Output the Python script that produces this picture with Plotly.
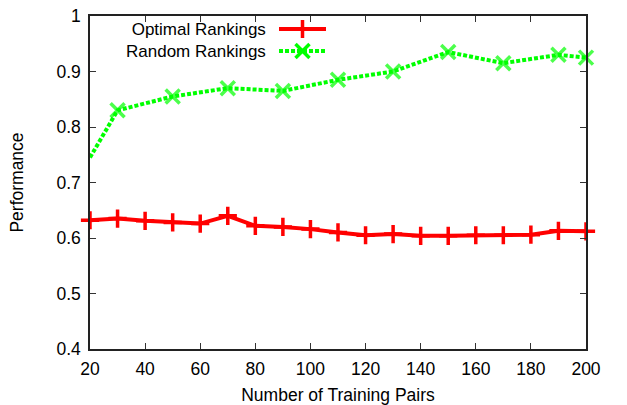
import plotly.graph_objects as go

# Data
opt_x = [20, 30, 40, 50, 60, 70, 80, 90, 100, 110, 120, 130, 140, 150, 160, 170, 180, 190, 200]
opt_y = [0.632, 0.635, 0.631, 0.628, 0.626, 0.640, 0.622, 0.620, 0.616, 0.610, 0.605, 0.607,
         0.604, 0.604, 0.605, 0.605, 0.606, 0.613, 0.612]
rnd_x = [20, 30, 50, 70, 90, 110, 130, 150, 170, 190, 200]
rnd_y = [0.745, 0.830, 0.855, 0.870, 0.865, 0.885, 0.900, 0.935, 0.915, 0.930, 0.925]
rnd_marker_sizes = [0] + [14] * (len(rnd_x) - 1)

x_ticks = [20, 40, 60, 80, 100, 120, 140, 160, 180, 200]
y_ticks = [0.4, 0.5, 0.6, 0.7, 0.8, 0.9, 1.0]
y_tick_text = ["0.4", "0.5", "0.6", "0.7", "0.8", "0.9", "1"]
legend_labels = ["Optimal Rankings", "Random Rankings"]

RED = "#ff0000"
GREEN = "#00ff00"
FONT = "Liberation Sans, Arial, sans-serif"
FS = 17.5
LFS = 17

W, H = 627, 405
L, R, T, B = 90, 41, 16, 56

fig = go.Figure()

fig.add_trace(go.Scatter(
    x=opt_x, y=opt_y, mode="lines+markers", name=legend_labels[0],
    line=dict(color=RED, width=4),
    marker=dict(symbol="cross-thin", size=13, line=dict(color=RED, width=3.5)),
    showlegend=False, cliponaxis=False,
))
fig.add_trace(go.Scatter(
    x=rnd_x, y=rnd_y, mode="lines+markers", name=legend_labels[1],
    line=dict(color=GREEN, width=4, dash="4px,2px"),
    marker=dict(symbol="x-thin", size=rnd_marker_sizes, line=dict(color=GREEN, width=3.5)),
    showlegend=False, cliponaxis=False,
))

# Legend drawn in pixel-like overlay axes (gnuplot style: text then sample)
leg_ys = [29.0, 51.0]
leg_styles = [(RED, "solid", "cross-thin", 13), (GREEN, "4px,2px", "x-thin", 14)]
for ly, (col, dash, sym, msz) in zip(leg_ys, leg_styles):
    fig.add_trace(go.Scatter(
        x=[279, 326], y=[ly, ly], mode="lines", xaxis="x2", yaxis="y2",
        line=dict(color=col, width=4, dash=dash), showlegend=False, hoverinfo="skip",
    ))
    fig.add_trace(go.Scatter(
        x=[302.5], y=[ly], mode="markers", xaxis="x2", yaxis="y2",
        marker=dict(symbol=sym, size=msz, line=dict(color=col, width=3.5)),
        showlegend=False, hoverinfo="skip",
    ))
fig.add_annotation(
    x=268, y=sum(leg_ys) / 2 + 0.5, xref="x2", yref="y2", text="<br>".join(legend_labels),
    showarrow=False, align="right", xanchor="right", yanchor="middle",
    font=dict(family=FONT, size=LFS, color="black"),
)

axis_common = dict(
    showgrid=False, zeroline=False, showline=True, linecolor="#222", linewidth=1.5,
    mirror="allticks", ticks="inside", ticklen=6, tickwidth=1, tickcolor="#333",
    tickfont=dict(family=FONT, size=FS, color="black"), automargin=False,
)

fig.update_layout(
    width=W, height=H,
    margin=dict(l=L, r=R, t=T, b=B),
    plot_bgcolor="white", paper_bgcolor="white",
    showlegend=False,
    xaxis=dict(range=[20, 200], tickvals=x_ticks, ticklabelstandoff=3,
               title=dict(text="Number of Training Pairs", font=dict(family=FONT, size=FS, color="black"), standoff=14),
               **axis_common),
    yaxis=dict(range=[0.4, 1.0], tickvals=y_ticks, ticktext=y_tick_text, ticklabelstandoff=4,
               title=dict(text="Performance", font=dict(family=FONT, size=FS, color="black"), standoff=28),
               **axis_common),
    xaxis2=dict(range=[L, W - R], overlaying="x", visible=False, fixedrange=True),
    yaxis2=dict(range=[H - B, T], overlaying="y", visible=False, fixedrange=True),
)

fig.write_html("out.html")
